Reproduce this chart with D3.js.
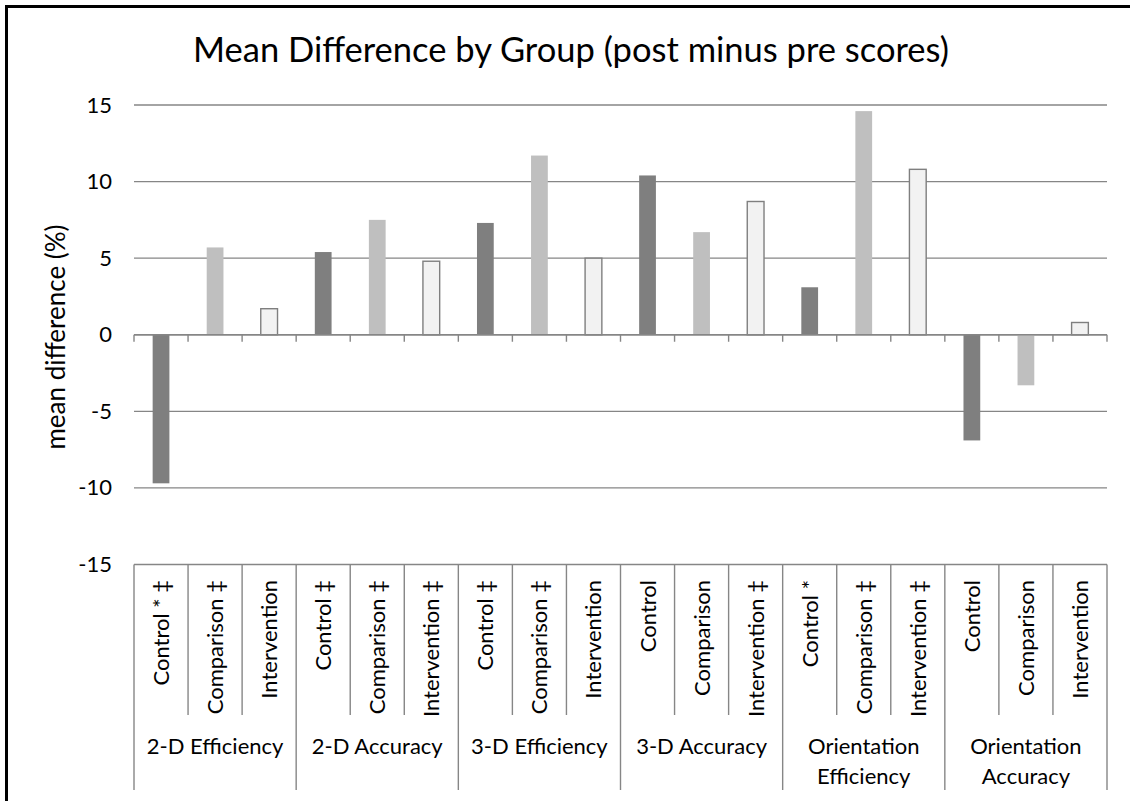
<!DOCTYPE html>
<html>
<head>
<meta charset="utf-8">
<script src="https://cdn.jsdelivr.net/npm/d3@7"></script>
<style>
  body { margin: 0; background: #fff; overflow: hidden; }
  svg { display: block; font-family: Lato, "Open Sans", sans-serif; }
</style>
</head>
<body>
<div class="chartContainer"></div>
<script>
// ======= data ========
var groups = ["2-D Efficiency", "2-D Accuracy", "3-D Efficiency", "3-D Accuracy", "Orientation Efficiency", "Orientation Accuracy"];
var groupLines = [["2-D Efficiency"], ["2-D Accuracy"], ["3-D Efficiency"], ["3-D Accuracy"], ["Orientation", "Efficiency"], ["Orientation", "Accuracy"]];
var seriesNames = ["Control", "Comparison", "Intervention"];
var subLabels = [
  ["Control * ‡", "Comparison ‡", "Intervention"],
  ["Control ‡", "Comparison ‡", "Intervention ‡"],
  ["Control ‡", "Comparison ‡", "Intervention"],
  ["Control", "Comparison", "Intervention ‡"],
  ["Control *", "Comparison ‡", "Intervention ‡"],
  ["Control", "Comparison", "Intervention"]
];
var control      = [-9.7, 5.4, 7.3, 10.4, 3.1, -6.9];
var comparison   = [5.7, 7.5, 11.7, 6.7, 14.6, -3.3];
var intervention = [1.7, 4.8, 5.0, 8.7, 10.8, 0.8];
var yTicks = [-15, -10, -5, 0, 5, 10, 15];

var width = 1130;
var height = 801;

// flatten into one bar per category slot
var bars = [];
groups.forEach(function(g, gi) {
  [control, comparison, intervention].forEach(function(arr, si) {
    bars.push({ id: gi + "-" + si, group: gi, series: si, label: subLabels[gi][si], value: arr[gi] });
  });
});

var svg = d3.select(".chartContainer")
  .append("svg")
    .attr("width", width)
    .attr("height", height);

// outer frame: only left and top edges fall inside the page
svg.append("path")
    .attr("d", "M6.5," + height + "V6.5H" + width)
    .style("fill", "none").style("stroke", "#000").style("stroke-width", 3);

var x = d3.scaleBand()
    .domain(bars.map(function(d) { return d.id; }))
    .range([134, 1107])
    .paddingInner(0).paddingOuter(0);

var y = d3.scaleLinear()
    .domain([-15, 15])
    .range([564.5, 105]);

var gridColor = "#868686";
var labelSize = "22px";

// ======= title ========
svg.append("text")
    .attr("x", 571).attr("y", 62)
    .attr("text-anchor", "middle")
    .style("font-size", "34.5px")
    .style("fill", "#000")
    .text("Mean Difference by Group (post minus pre scores)");

// ======= gridlines + y labels ========
svg.append("g").selectAll("line")
    .data(yTicks)
  .enter().append("line")
    .attr("x1", 134).attr("x2", 1107)
    .attr("y1", function(d) { return y(d); })
    .attr("y2", function(d) { return y(d); })
    .style("stroke", gridColor).style("stroke-width", 1.4);

var yAxis = d3.axisLeft(y).tickValues(yTicks).tickSize(0).tickPadding(22)
    .tickFormat(function(d) { return String(d); });
svg.append("g")
    .attr("transform", "translate(134,0)")
    .call(yAxis)
    .call(function(g) { g.select(".domain").remove(); })
    .selectAll("text")
      .style("font-family", "Lato, 'Open Sans', sans-serif")
      .style("font-size", labelSize)
      .style("fill", "#000");

svg.append("text")
    .attr("transform", "translate(65,337) rotate(-90)")
    .attr("text-anchor", "middle")
    .style("font-size", "26px")
    .text("mean difference (%)");

// ======= bars ========
var fills = ["#7f7f7f", "#bfbfbf", "#f2f2f2"];
var bw = x.bandwidth() * 0.31;

svg.append("g").selectAll("rect")
    .data(bars)
  .enter().append("rect")
    .attr("x", function(d) { return x(d.id) + x.bandwidth() / 2 - bw / 2; })
    .attr("y", function(d) { return y(Math.max(0, d.value)); })
    .attr("width", bw)
    .attr("height", function(d) { return Math.abs(y(d.value) - y(0)); })
    .style("fill", function(d) { return fills[d.series]; })
    .style("stroke", function(d) { return d.series == 2 ? "#7f7f7f" : "none"; })
    .style("stroke-width", 1.4);

// ======= category axis at zero ========
var xAxis = d3.axisBottom(x).tickSize(0).tickFormat("");
svg.append("g")
    .attr("transform", "translate(0," + y(0) + ")")
    .call(xAxis)
    .call(function(g) {
      g.select(".domain").style("stroke", gridColor).style("stroke-width", 1.4).attr("d", "M134,0H1107");
    });

var boundaries = d3.range(bars.length + 1).map(function(i) {
  return i < bars.length ? x(bars[i].id) : x.range()[1];
});

svg.append("g").selectAll("line")
    .data(boundaries)
  .enter().append("line")
    .attr("x1", function(d) { return d; }).attr("x2", function(d) { return d; })
    .attr("y1", y(0)).attr("y2", y(0) + 7)
    .style("stroke", gridColor).style("stroke-width", 1.4);

// ======= label table under the plot ========
svg.append("g").selectAll("line")
    .data(boundaries)
  .enter().append("line")
    .attr("x1", function(d) { return d; }).attr("x2", function(d) { return d; })
    .attr("y1", y(-15))
    .attr("y2", function(d, i) { return i % 3 == 0 ? 790 : 715; })
    .style("stroke", gridColor).style("stroke-width", 1.4);

svg.append("g").selectAll("text")
    .data(bars)
  .enter().append("text")
    .attr("transform", function(d) {
      return "translate(" + (x(d.id) + x.bandwidth() / 2 + 8) + ",580) rotate(-90)";
    })
    .attr("text-anchor", "end")
    .style("font-size", labelSize)
    .text(function(d) { return d.label; });

var groupWidth = x.bandwidth() * 3;
var gLabels = svg.append("g").selectAll("text")
    .data(groupLines)
  .enter().append("text")
    .attr("text-anchor", "middle")
    .style("font-size", labelSize)
    .attr("x", function(d, i) { return x(bars[i * 3].id) + groupWidth / 2; })
    .attr("y", 754);

gLabels.selectAll("tspan")
    .data(function(d) { return d; })
  .enter().append("tspan")
    .attr("x", function() { return d3.select(this.parentNode).attr("x"); })
    .attr("dy", function(d, i) { return i == 0 ? 0 : 30; })
    .text(function(d) { return d; });
</script>
</body>
</html>
